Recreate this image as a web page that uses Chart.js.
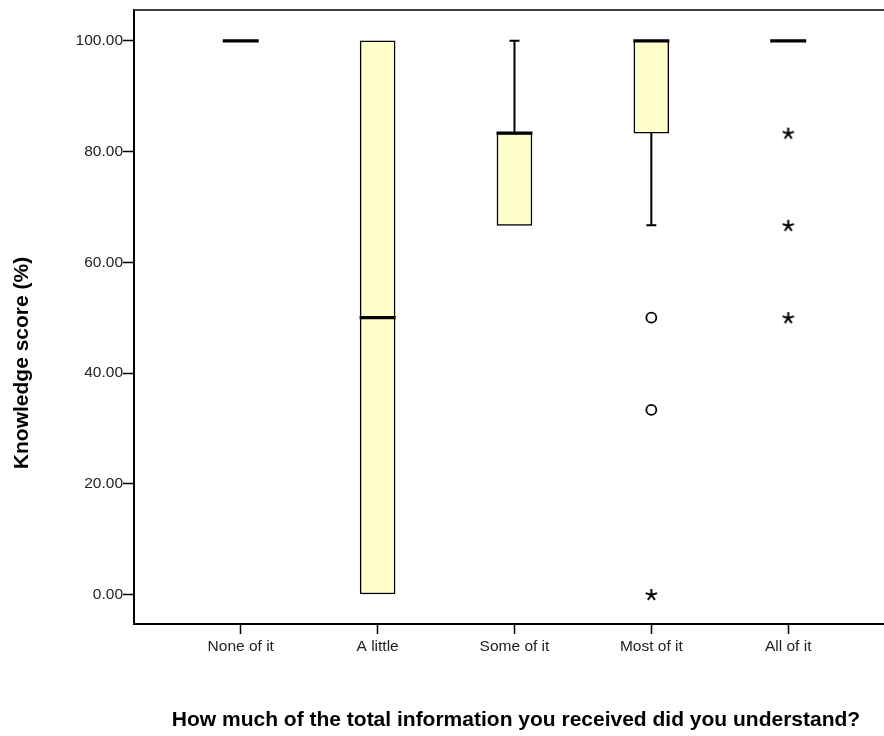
<!DOCTYPE html>
<html>
<head>
<meta charset="utf-8">
<script src="https://cdn.jsdelivr.net/npm/chart.js@4.4.1/dist/chart.umd.min.js"></script>
<style>
  html, body { margin: 0; padding: 0; background: #fff; }
  #wrap { width: 884px; height: 736px; }
</style>
</head>
<body>
<div id="wrap"><canvas id="c" width="884" height="736"></canvas></div>
<script>
// Knowledge score by how much of the information was understood
const categories = ['None of it', 'A little', 'Some of it', 'Most of it', 'All of it'];
const q1 = [100, 0, 66.67, 83.33, 100];
const median = [100, 50, 83.33, 100, 100];
const q3 = [100, 100, 83.33, 100, 100];
const whiskerLow = [100, 0, 66.67, 66.67, 100];
const whiskerHigh = [100, 100, 100, 100, 100];
const outliers = [[], [], [], [50, 33.33], []];          // drawn as circles
const extremes = [[], [], [], [0], [83.33, 66.67, 50]];  // drawn as stars
const yTicks = [0, 20, 40, 60, 80, 100];

const xTitle = 'How much of the total information you received did you understand?';
const yTitle = 'Knowledge score (%)';

// Box bodies as floating bars, only where the box has height
const boxData = [];
categories.forEach((c, i) => {
  if (q3[i] > q1[i]) boxData.push({ x: i, y: [q1[i], q3[i]] });
});
const circlePts = [];
outliers.forEach((vals, i) => vals.forEach(v => circlePts.push({ x: i, y: v })));
const starPts = [];
extremes.forEach((vals, i) => vals.forEach(v => starPts.push({ x: i, y: v })));

// Five-armed asterisk marker
function makeStar(size) {
  const c = document.createElement('canvas');
  c.width = size; c.height = size;
  const g = c.getContext('2d');
  g.strokeStyle = '#000';
  g.lineWidth = 2;
  const cx = size / 2, cy = size / 2 + 0.5, r = size / 2 - 0.5;
  g.beginPath();
  for (let k = 0; k < 5; k++) {
    const a = (-90 + k * 72) * Math.PI / 180;
    g.moveTo(cx, cy);
    g.lineTo(cx + r * Math.cos(a), cy + r * Math.sin(a));
  }
  g.stroke();
  return c;
}

const FONT = "'Liberation Sans', Arial, sans-serif";

// Whiskers, caps and median lines
const boxExtras = {
  id: 'boxExtras',
  afterDatasetsDraw(chart) {
    const { ctx, scales: { x, y } } = chart;
    ctx.save();
    ctx.strokeStyle = '#000';
    categories.forEach((c, i) => {
      const px = x.getPixelForValue(i);
      const capHalf = 5;
      ctx.lineWidth = 2;
      if (whiskerHigh[i] > q3[i]) {
        const yTop = y.getPixelForValue(whiskerHigh[i]);
        ctx.beginPath();
        ctx.moveTo(px, y.getPixelForValue(q3[i]));
        ctx.lineTo(px, yTop);
        ctx.moveTo(px - capHalf, yTop);
        ctx.lineTo(px + capHalf, yTop);
        ctx.stroke();
      }
      if (whiskerLow[i] < q1[i]) {
        const yBot = y.getPixelForValue(whiskerLow[i]);
        ctx.beginPath();
        ctx.moveTo(px, y.getPixelForValue(q1[i]));
        ctx.lineTo(px, yBot);
        ctx.moveTo(px - capHalf, yBot);
        ctx.lineTo(px + capHalf, yBot);
        ctx.stroke();
      }
      const pm = y.getPixelForValue(median[i]);
      ctx.lineWidth = 3.2;
      ctx.beginPath();
      ctx.moveTo(px - 18, pm);
      ctx.lineTo(px + 18, pm);
      ctx.stroke();
    });
    ctx.restore();
  },
  afterDraw(chart) {
    const { ctx, chartArea } = chart;
    ctx.save();
    // top frame line
    ctx.strokeStyle = '#404040';
    ctx.lineWidth = 2;
    ctx.beginPath();
    ctx.moveTo(chartArea.left, chartArea.top);
    ctx.lineTo(chartArea.right, chartArea.top);
    ctx.stroke();
    // axis titles
    ctx.fillStyle = '#000';
    ctx.font = 'bold 21px ' + FONT;
    ctx.textAlign = 'center';
    ctx.textBaseline = 'middle';
    ctx.fillText(xTitle, 516, 720);
    ctx.translate(22, 363);
    ctx.rotate(-Math.PI / 2);
    ctx.fillText(yTitle, 0, 0);
    ctx.restore();
  }
};

new Chart(document.getElementById('c'), {
  type: 'bar',
  data: {
    datasets: [
      {
        type: 'bar',
        data: boxData,
        backgroundColor: '#FFFFCC',
        borderColor: '#000',
        borderWidth: 1.5,
        borderSkipped: false,
        barThickness: 35,
        grouped: false,
        order: 2
      },
      {
        type: 'scatter',
        data: circlePts,
        pointStyle: 'circle',
        radius: 5,
        borderWidth: 1.8,
        borderColor: '#000',
        backgroundColor: 'rgba(255,255,255,0)',
        order: 1
      },
      {
        type: 'scatter',
        data: starPts,
        pointStyle: makeStar(13),
        radius: 6,
        order: 1
      }
    ]
  },
  options: {
    responsive: false,
    devicePixelRatio: 1,
    animation: false,
    layout: { autoPadding: false, padding: { top: 10, right: 0, bottom: 0, left: 0 } },
    plugins: { legend: { display: false }, tooltip: { enabled: false } },
    scales: {
      x: {
        type: 'linear',
        min: -0.78,
        max: 4.70,
        offset: false,
        afterFit(s) { s.height = 112; },
        afterBuildTicks(s) { s.ticks = categories.map((c, i) => ({ value: i })); },
        grid: { offset: false, drawOnChartArea: false, drawTicks: true, tickLength: 10, tickColor: '#000', tickWidth: 1.5 },
        border: { display: true, color: '#000', width: 2 },
        ticks: {
          padding: 3,
          color: '#222',
          font: { family: FONT, size: 15.5 },
          maxRotation: 0,
          autoSkip: false,
          callback: (v) => categories[v]
        }
      },
      y: {
        type: 'linear',
        min: -5.33,
        max: 105.56,
        afterFit(s) { s.width = 134; },
        afterBuildTicks(s) { s.ticks = yTicks.map(v => ({ value: v })); },
        grid: { drawOnChartArea: false, drawTicks: true, tickLength: 11, tickColor: '#000', tickWidth: 1.5 },
        border: { display: true, color: '#000', width: 2 },
        ticks: {
          padding: 0,
          color: '#222',
          font: { family: FONT, size: 15.5 },
          callback: (v) => Number(v).toFixed(2)
        }
      }
    }
  },
  plugins: [boxExtras]
});
</script>
</body>
</html>
